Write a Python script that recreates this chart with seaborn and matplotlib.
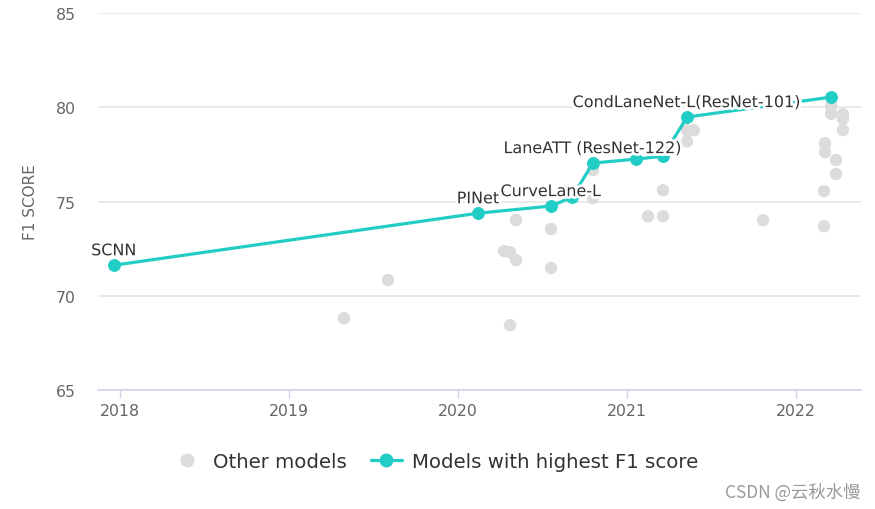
import matplotlib
matplotlib.use("Agg")
import matplotlib.pyplot as plt
import matplotlib.patheffects as pe
from matplotlib.lines import Line2D
import seaborn as sns
import pandas as pd

# ---- data ----
best_date = [2017.964, 2020.12, 2020.552, 2020.676, 2020.80, 2021.055, 2021.215, 2021.357, 2022.21]
best_f1 = [71.62, 74.38, 74.76, 75.23, 77.04, 77.25, 77.41, 79.48, 80.54]
best_label = ["SCNN", "PINet", "CurveLane-L", "", "LaneATT (ResNet-122)", "", "",
              "CondLaneNet-L(ResNet-101)", ""]

other_date = [2019.326, 2019.587, 2020.345, 2020.274, 2020.309, 2020.345, 2020.552, 2020.552,
              2020.309, 2020.80, 2020.80, 2021.357, 2021.398, 2021.357, 2021.215, 2021.126,
              2021.215, 2021.807, 2022.21, 2022.21, 2022.28, 2022.28, 2022.28, 2022.174,
              2022.174, 2022.239, 2022.239, 2022.168, 2022.168]
other_f1 = [68.81, 70.83, 74.02, 72.37, 72.31, 71.89, 73.54, 71.47,
            68.44, 76.67, 75.18, 78.78, 78.78, 78.19, 75.6, 74.22,
            74.22, 74.01, 80.06, 79.65, 79.64, 79.38, 78.79, 78.1,
            77.62, 77.2, 76.46, 75.55, 73.69]

year_ticks = [2018, 2019, 2020, 2021, 2022]
f1_ticks = [65, 70, 75, 80, 85]

TEAL = "#22cdc6"
GRAY = "#dcdcdc"
TXT = "#666666"

sns.set_theme(style="white")
plt.rcParams['font.family'] = ['DejaVu Sans']

fig = plt.figure(figsize=(8.75, 5.10), dpi=100)
ax = fig.add_axes([0.112, 0.2333, 0.872, 0.7392])

df_other = pd.DataFrame({"date": other_date, "f1": other_f1})
df_best = pd.DataFrame({"date": best_date, "f1": best_f1})

sns.scatterplot(data=df_other, x="date", y="f1", ax=ax, color=GRAY, s=80,
                edgecolor="none", zorder=2, legend=False)
sns.lineplot(data=df_best, x="date", y="f1", ax=ax, color=TEAL, linewidth=2.3,
             marker="o", markersize=8.5, markeredgecolor=TEAL, zorder=3,
             legend=False, sort=False)

for xv, yv, lab in zip(best_date, best_f1, best_label):
    if lab:
        ax.annotate(lab, (xv, yv), xytext=(0, 5), textcoords="offset points",
                    ha="center", va="bottom", fontsize=11.5, color="#333333",
                    zorder=5,
                    path_effects=[pe.withStroke(linewidth=4, foreground="white")])

ax.set_xlim(2017.87, 2022.387)
ax.set_ylim(65, 85)
ax.set_xticks(year_ticks)
ax.set_xticklabels([str(v) for v in year_ticks])
ax.set_yticks(f1_ticks)
ax.set_yticklabels([str(v) for v in f1_ticks])
ax.grid(axis="y", color="#e6e6e6", linewidth=1.2)
ax.grid(axis="x", visible=False)
ax.set_axisbelow(True)
for s in ["left", "right", "top"]:
    ax.spines[s].set_visible(False)
ax.spines["bottom"].set_color("#ccd4e6")
ax.spines["bottom"].set_linewidth(1.2)
ax.tick_params(axis="x", length=6, width=1, color="#ccd4e6", colors=TXT,
               labelsize=11.3, pad=3, bottom=True)
ax.tick_params(axis="y", length=0, colors=TXT, labelsize=11.3, pad=16)
ax.set_xlabel("")
ax.set_ylabel("F1 SCORE", color=TXT, fontsize=11, labelpad=13)

handles = [
    Line2D([], [], linestyle="none", marker="o", markersize=9, color=GRAY,
           markeredgecolor=GRAY),
    Line2D([], [], color=TEAL, linewidth=2.3, marker="o", markersize=9,
           markeredgecolor=TEAL),
]
fig.legend(handles, ["Other models", "Models with highest F1 score"],
           loc="center", bbox_to_anchor=(0.497, 0.094), ncol=2, frameon=False,
           fontsize=14.2, labelcolor="#333333", handlelength=1.6, columnspacing=1.2,
           handletextpad=0.5)

fig.text(0.983, 0.035, "CSDN @云秋水慢", ha="right", va="center", fontsize=12.5,
         color="#999999", family=["Noto Sans CJK SC", "DejaVu Sans"])

fig.savefig("out.png", dpi=100)
